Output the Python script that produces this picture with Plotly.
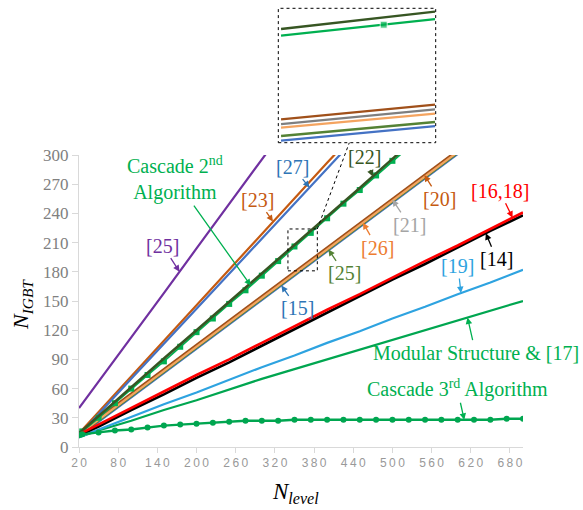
import numpy as np
import plotly.graph_objects as go

# ---------------- data ----------------
x_std = [20, 50, 100, 150, 200, 250, 300, 350, 400, 450, 500, 550, 600, 650, 700]

ref25p_x = [20, 50, 100, 150, 200, 250, 300, 350]
ref25p_y = [40, 67, 113, 158, 204, 250, 295, 341]

ref23_x = [20, 50, 100, 150, 200, 250, 300, 350, 400, 450]
ref23_y = [14, 36, 72, 109, 146, 182, 219, 256, 292, 328]
ref27_y = [12, 34, 70, 106, 142, 178, 214, 250, 286, 322]

ref22_x = [20, 50, 100, 150, 200, 250, 300, 350, 400, 450, 500, 550]
ref22_y = [14, 32, 62, 91, 120, 149, 178, 208, 237, 266, 296, 325]

cas2_x = [20, 25, 50, 75, 100, 125, 150, 175, 200, 225, 250, 275, 300, 325, 350,
          375, 400, 425, 450, 475, 500, 525]
cas2_y = [13, 16, 30, 45, 60, 74, 88, 103, 118, 132, 147, 161, 176, 191, 206,
          220, 235, 250, 264, 279, 294, 308]

bundle_x = [20, 50, 100, 150, 200, 250, 300, 350, 400, 450, 500, 550, 600]
ref20_y = [15, 30, 55, 80, 105, 130, 155, 180, 205, 230, 255, 280, 305]
ref21_y = [14, 29, 54, 79, 104, 129, 154, 179, 204, 229, 254, 279, 304]
ref26_y = [13, 28, 53, 78, 103, 128, 153, 178, 203, 228, 253, 278, 303]
ref25g_y = [12, 27, 52, 77, 102, 127, 152, 177, 202, 227, 252, 277, 302]
ref15_y = [11, 26, 51, 76, 101, 126, 151, 176, 201, 226, 251, 276, 301]

ref1618_y = [13, 23, 40, 57, 74, 90, 107, 124, 141, 157, 174, 191, 207, 224, 241]
ref14_y = [12, 21, 38, 54, 71, 87, 104, 121, 138, 155, 172, 188, 205, 222, 238]
ref19_y = [10, 18, 31, 44, 56, 69, 82, 94, 107, 119, 132, 144, 157, 169, 182]
ref17_y = [10, 17, 27, 38, 48, 59, 70, 80, 90, 100, 110, 120, 130, 140, 150]

cas3_x = [20, 25, 50, 75, 100, 125, 150, 175, 200, 225, 250, 275, 300, 325, 350,
          375, 400, 425, 450, 475, 500, 525, 550, 575, 600, 625, 650, 675, 700]
cas3_y = [12, 13, 15, 17, 18, 20, 22, 23, 24, 25, 26, 27, 27, 27, 28,
          28, 28, 28, 28, 28, 28, 28, 28, 28, 28, 28, 28, 29, 29]

x_ticks = [20, 80, 140, 200, 260, 320, 380, 440, 500, 560, 620, 680]
y_ticks = [0, 30, 60, 90, 120, 150, 180, 210, 240, 270, 300]

# inset (zoomed illustration) values, in inset units
inset_x = [340, 385]
in22_y = [84.6, 97.5]
inCas2_x = [340, 370, 385]
inCas2_y = [79.6, 87.8, 92.0]
in20_y = [17.4, 28.3]
in21_y = [13.9, 24.8]
in26_y = [11.2, 21.6]
in25_y = [5.0, 15.4]
in15_y = [1.5, 12.4]

# ---------------- colours ----------------
C_PURPLE = "#7030A0"
C_ORANGE_D = "#C55A11"
C_BLUE = "#4472C4"
C_DGREEN = "#375623"
C_GREEN = "#00B050"
C_BROWN = "#A0501A"
C_GRAY = "#7F7F7F"
C_ORANGE_L = "#F4A460"
C_GREEN25 = "#548235"
C_BLUE15 = "#4472C4"
C_RED = "#FF0000"
C_BLACK = "#000000"
C_LBLUE = "#2EA3E0"
C_GREEN17 = "#00A650"

fig = go.Figure()

def line(x, y, color, width=2.2, xa="x", ya="y", **kw):
    fig.add_trace(go.Scatter(x=x, y=y, mode="lines", line=dict(color=color, width=width),
                             xaxis=xa, yaxis=ya, showlegend=False, hoverinfo="skip", **kw))

# main lines
line(ref25p_x, ref25p_y, C_PURPLE)
line(ref23_x, ref23_y, C_ORANGE_D)
line(ref23_x, ref27_y, C_BLUE)
line(bundle_x, ref15_y, C_BLUE15)
line(bundle_x, ref25g_y, C_GREEN25)
line(bundle_x, ref21_y, C_GRAY)
line(bundle_x, ref20_y, C_BROWN)
line(bundle_x, ref26_y, C_ORANGE_L)
fig.add_trace(go.Scatter(x=cas2_x, y=cas2_y, mode="lines+markers",
                         line=dict(color=C_GREEN, width=1.8),
                         marker=dict(symbol="square", size=6, color=C_GREEN),
                         showlegend=False, hoverinfo="skip", cliponaxis=True))
line(ref22_x, ref22_y, C_DGREEN, width=2.6)
line(x_std, ref17_y, C_GREEN17)
line(x_std, ref19_y, C_LBLUE)
line(x_std, ref14_y, C_BLACK, width=2.6)
line(x_std, ref1618_y, C_RED, width=2.6)
fig.add_trace(go.Scatter(x=cas3_x, y=cas3_y, mode="lines+markers",
                         line=dict(color=C_GREEN17, width=2.4),
                         marker=dict(symbol="circle", size=6, color=C_GREEN17),
                         showlegend=False, hoverinfo="skip", cliponaxis=True))

# inset lines
line(inset_x, in15_y, C_BLUE15, 2.3, "x2", "y2")
line(inset_x, in25_y, C_GREEN25, 2.3, "x2", "y2")
line(inset_x, in26_y, C_ORANGE_L, 2.3, "x2", "y2")
line(inset_x, in21_y, C_GRAY, 2.3, "x2", "y2")
line(inset_x, in20_y, C_BROWN, 2.3, "x2", "y2")
line(inset_x, in22_y, C_DGREEN, 2.3, "x2", "y2")
fig.add_trace(go.Scatter(x=inCas2_x, y=inCas2_y, mode="lines+markers",
                         line=dict(color=C_GREEN, width=2.3),
                         marker=dict(symbol="square", size=[0, 7, 0], color=C_GREEN),
                         xaxis="x2", yaxis="y2", showlegend=False, hoverinfo="skip"))

# ---------------- layout ----------------
W, H = 583, 510
ML, MR, MT, MB = 79, 60, 0, 63
PH = H - MT - MB
main_top = 292 / PH

def px_to_paper_x(px):
    return (px - ML) / (W - ML - MR)

def px_to_paper_y(py):
    return (H - MB - py) / PH

axis_gray = "#D9D9D9"
fig.update_layout(
    width=W, height=H, margin=dict(l=ML, r=MR, t=MT, b=MB, pad=0, autoexpand=False),
    paper_bgcolor="white", plot_bgcolor="white",
    xaxis=dict(range=[20, 700], tickvals=x_ticks,
               ticktext=["\u2009".join(str(v)) for v in x_ticks],
               showgrid=False, zeroline=False, showline=True, linecolor=axis_gray, linewidth=1,
               ticks="outside", ticklen=5, tickcolor=axis_gray, automargin=False,
               tickfont=dict(family="Liberation Sans", size=12, color="#999999"),
               domain=[0, 1], anchor="y"),
    yaxis=dict(range=[0, 300], tickvals=y_ticks, showgrid=False, zeroline=False,
               showline=True, linecolor=axis_gray, linewidth=1, automargin=False,
               ticks="outside", ticklen=6, tickcolor=axis_gray,
               tickfont=dict(family="Liberation Serif", size=17, color="#808080"),
               domain=[0, main_top], anchor="x"),
    xaxis2=dict(range=[339.2, 385.2], domain=[px_to_paper_x(278.3), px_to_paper_x(435.7)],
                visible=False, showticklabels=False, automargin=False, anchor="y2"),
    yaxis2=dict(range=[0, 100], domain=[px_to_paper_y(142.7), px_to_paper_y(8.3)],
                visible=False, showticklabels=False, automargin=False, anchor="x2"),
)

# inset border, small zoom box and connector
fig.add_shape(type="rect", xref="paper", yref="paper",
              x0=px_to_paper_x(278.3), x1=px_to_paper_x(435.7),
              y0=px_to_paper_y(142.7), y1=px_to_paper_y(8.3),
              line=dict(color="black", width=1, dash="dot"))
fig.add_shape(type="rect", xref="x", yref="y", x0=340, x1=385, y0=181, y1=224,
              line=dict(color="black", width=1, dash="dot"))
fig.add_shape(type="line", xref="x", yref="paper", x0=385, y0=224 / 300 * main_top,
              x1=434, y1=px_to_paper_y(142.7),
              line=dict(color="black", width=1, dash="dot"))

# labels with arrows: (text, colour, series x, series y, head x, ax, ay)
labels = [
    ("[25]", C_PURPLE, ref25p_x, ref25p_y, 174, -17, -26),
    ("Cascade 2<sup>nd</sup><br>Algorithm", C_GREEN, cas2_x, cas2_y, 283, -76, -107),
    ("[23]", C_ORANGE_D, ref23_x, ref23_y, 317, -15, -22),
    ("[27]", "#2E75B6", ref23_x, ref27_y, 373, -17, -21),
    ("[22]", C_DGREEN, ref22_x, ref22_y, 470, -8, -19),
    ("[20]", C_ORANGE_D, bundle_x, ref20_y, 549, 15, 24),
    ("[21]", "#A5A5A5", bundle_x, ref21_y, 500, 17, 25),
    ("[26]", "#ED7D31", bundle_x, ref26_y, 455, 14, 25),
    ("[25]", C_GREEN25, bundle_x, ref25g_y, 402, 16, 24),
    ("[15]", "#2E75B6", bundle_x, ref15_y, 330, 16, 23),
    ("[16,18]", C_RED, x_std, ref1618_y, 684, -13, -27),
    ("[14]", C_BLACK, x_std, ref14_y, 643, 11, 26),
    ("[19]", C_LBLUE, x_std, ref19_y, 605, -3, -27),
    ("Modular Structure &amp; [17]", C_GREEN, x_std, ref17_y, 615, 8, 35),
    ("Cascade 3<sup>rd</sup> Algorithm", C_GREEN, cas3_x, cas3_y, 610, -7, -31),
]
for text, color, sx, sy, hx, ax, ay in labels:
    hy = float(np.interp(hx, sx, sy))
    fig.add_annotation(x=hx, y=hy, xref="x", yref="y", text=text, showarrow=True,
                       ax=ax, ay=ay, arrowhead=2, arrowsize=1, arrowwidth=1.3,
                       arrowcolor=color, standoff=0,
                       font=dict(family="Liberation Serif", size=20, color=color))

# axis titles
fig.add_annotation(xref="paper", yref="paper", x=px_to_paper_x(295), y=px_to_paper_y(493),
                   xanchor="center", yanchor="middle",
                   text="<i>N</i><sub><i>level</i></sub>", showarrow=False,
                   font=dict(family="Liberation Serif", size=23, color="black"))
fig.add_annotation(xref="paper", yref="paper", x=px_to_paper_x(22), y=px_to_paper_y(305),
                   xanchor="center", yanchor="middle",
                   text="<i>N</i><sub><i>IGBT</i></sub>", showarrow=False, textangle=-90,
                   font=dict(family="Liberation Serif", size=22, color="black"))

fig.write_html("out.html")
